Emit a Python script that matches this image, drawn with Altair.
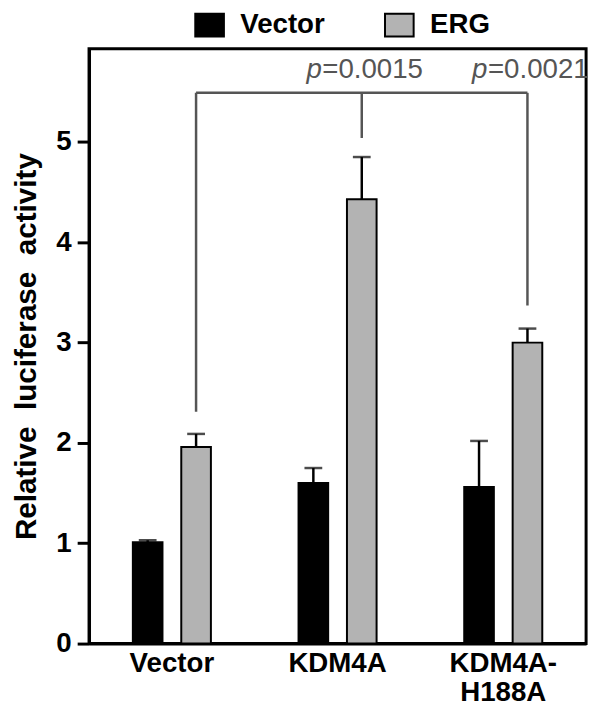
import altair as alt
import pandas as pd

# ---- data ----
groups = ["Vector", "KDM4A", "KDM4A-H188A"]
series = ["Vector", "ERG"]
vector_vals = [1.01, 1.60, 1.56]
vector_err_top = [1.03, 1.75, 2.02]
erg_vals = [1.96, 4.43, 3.00]
erg_err_top = [2.09, 4.85, 3.14]

p_groups = ["KDM4A", "KDM4A-H188A"]
p_values = ["=0.0015", "=0.0021"]

bracket_top = 5.49
drop_ends = [2.31, 5.04, 3.37]
p_text_y = 5.64

# ---- tables ----
rows = []
for g, v, e in zip(groups, vector_vals, vector_err_top):
    rows.append({"group": g, "series": "Vector", "value": v, "err": e})
for g, v, e in zip(groups, erg_vals, erg_err_top):
    rows.append({"group": g, "series": "ERG", "value": v, "err": e})
bars_df = pd.DataFrame(rows)

hline_df = pd.DataFrame({"group": [groups[0]], "group2": [groups[-1]], "y": [bracket_top]})
drops_df = pd.DataFrame({"group": groups, "y1": drop_ends, "y2": [bracket_top] * len(groups)})
ptext_df = pd.DataFrame({"group": p_groups, "label": p_values, "y": [p_text_y] * len(p_groups)})

FONT = "Liberation Sans"
GRAY_LINE = "#555555"
ERG_POS = 0.646  # band position of the ERG sub-bar centre

x_scale = alt.Scale(domain=groups, paddingInner=0, paddingOuter=0)
x_axis = alt.Axis(
    title=None, labelAngle=0, ticks=False, labelFontSize=28, labelFontWeight="bold",
    labelFont=FONT, labelColor="black", labelPadding=6, labelLineHeight=30,
    labelExpr="datum.value == 'KDM4A-H188A' ? ['KDM4A-', 'H188A'] : datum.value",
    domainColor="black", domainWidth=3,
)
y_scale = alt.Scale(domain=[0, 5.93], nice=False, zero=True)
y_axis = alt.Axis(
    values=[0, 1, 2, 3, 4, 5], format="d", title="Relative\u00a0 luciferase\u00a0 activity",
    titleFont=FONT, titleFontSize=30, titleFontWeight="bold", titleColor="black",
    titlePadding=15, labelFont=FONT, labelFontSize=28, labelFontWeight="bold",
    labelColor="black", labelPadding=6, tickSize=12, tickWidth=3, tickColor="black",
    domainColor="black", domainWidth=3, grid=False,
)

x_enc = alt.X("group:N", scale=x_scale, axis=x_axis)
xoff = alt.XOffset("series:N", sort=series,
                   scale=alt.Scale(domain=series, paddingInner=0.388, paddingOuter=0.905))

bars = alt.Chart(bars_df).mark_bar(stroke="black", strokeWidth=2).encode(
    x=x_enc,
    xOffset=xoff,
    y=alt.Y("value:Q", scale=y_scale, axis=y_axis),
    color=alt.Color(
        "series:N", sort=series,
        scale=alt.Scale(domain=series, range=["#000000", "#b3b3b3"]),
        legend=alt.Legend(
            orient="none", legendX=108, legendY=-38, direction="horizontal", title=None,
            symbolType="M-1.26,-1H1.26V1H-1.26Z", symbolSize=529,
            symbolStrokeColor="black", symbolStrokeWidth=2, symbolOpacity=1,
            labelFont=FONT, labelFontSize=28, labelFontWeight="bold", labelColor="black",
            labelOffset=17, columnPadding=56, padding=0,
        ),
    ),
)

err_rule = alt.Chart(bars_df).mark_rule(color="black", strokeWidth=2.5).encode(
    x=x_enc, xOffset=xoff, y=alt.Y("value:Q", scale=y_scale), y2="err:Q",
)
err_cap = alt.Chart(bars_df).mark_tick(color="black", thickness=2.5, size=18).encode(
    x=x_enc, xOffset=xoff, y=alt.Y("err:Q", scale=y_scale),
)

hline = alt.Chart(hline_df).mark_rule(color=GRAY_LINE, strokeWidth=2.5).encode(
    x=alt.X("group:N", scale=x_scale, bandPosition=ERG_POS, axis=x_axis),
    x2=alt.X2("group2", bandPosition=ERG_POS),
    y=alt.Y("y:Q", scale=y_scale),
)
drops = alt.Chart(drops_df).mark_rule(color=GRAY_LINE, strokeWidth=2.5).encode(
    x=alt.X("group:N", scale=x_scale, bandPosition=ERG_POS, axis=x_axis),
    y=alt.Y("y1:Q", scale=y_scale),
    y2="y2:Q",
)
p_italic = alt.Chart(ptext_df).mark_text(
    text="p", font=FONT, fontSize=28, fontStyle="italic", color=GRAY_LINE,
    align="left", baseline="alphabetic", dx=-56,
).encode(
    x=alt.X("group:N", scale=x_scale, bandPosition=ERG_POS, axis=x_axis),
    y=alt.Y("y:Q", scale=y_scale),
)
p_rest = alt.Chart(ptext_df).mark_text(
    font=FONT, fontSize=28, color=GRAY_LINE, align="left", baseline="alphabetic", dx=-40,
).encode(
    x=alt.X("group:N", scale=x_scale, bandPosition=ERG_POS, axis=x_axis),
    y=alt.Y("y:Q", scale=y_scale),
    text="label:N",
)

chart = alt.layer(bars, err_rule, err_cap, hline, drops, p_italic, p_rest).properties(
    width=503, height=602,
    padding={"left": 82, "top": 37, "right": 8, "bottom": 60},
    autosize=alt.AutoSizeParams(type="none"),
).configure(background="white").configure_view(stroke="black", strokeWidth=3)

chart.save("out.html", embed_options={"renderer": "svg", "actions": False})
